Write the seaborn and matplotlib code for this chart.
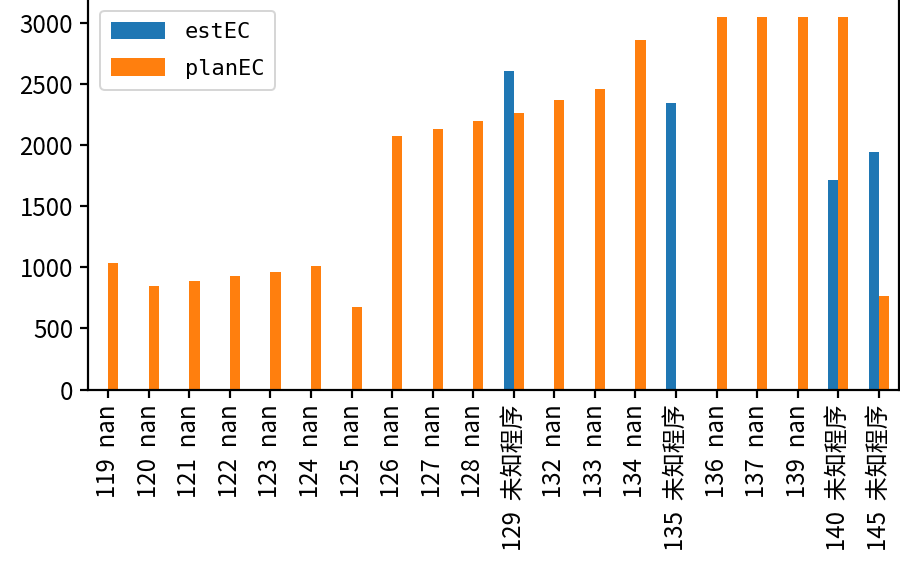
import matplotlib
matplotlib.use("Agg")
import matplotlib.pyplot as plt
import seaborn as sns
import pandas as pd
import numpy as np

categories = ["119  nan", "120  nan", "121  nan", "122  nan", "123  nan", "124  nan",
              "125  nan", "126  nan", "127  nan", "128  nan", "129  未知程序", "132  nan",
              "133  nan", "134  nan", "135  未知程序", "136  nan", "137  nan", "139  nan",
              "140  未知程序", "145  未知程序"]
estEC = [np.nan, np.nan, np.nan, np.nan, np.nan, np.nan, np.nan, np.nan, np.nan, np.nan,
         2605, np.nan, np.nan, np.nan, 2343, np.nan, np.nan, np.nan, 1713, 1943]
planEC = [1035, 847, 888, 928, 961, 1010, 675, 2073, 2130, 2196,
          2262, 2367, 2458, 2858, np.nan, 3046, 3046, 3046, 3046, 763]
series_names = ["estEC", "planEC"]

df = pd.DataFrame({"cat": categories, "estEC": estEC, "planEC": planEC})
long = df.melt(id_vars="cat", value_vars=series_names, var_name="series", value_name="value")

sns.set_style("ticks", {"axes.edgecolor": "black", "text.color": "black",
                        "xtick.color": "black", "ytick.color": "black",
                        "axes.labelcolor": "black"})
plt.rcParams["font.family"] = ["Noto Sans CJK SC", "DejaVu Sans"]
plt.rcParams["axes.unicode_minus"] = False

DPI = 144
fig = plt.figure(figsize=(900 / DPI, 572 / DPI), dpi=DPI)
ax = fig.add_axes([88 / 900, (572 - 389.5) / 572, 811 / 900, 391 / 572])

sns.barplot(data=long, x="cat", y="value", hue="series", hue_order=series_names,
            order=categories, palette=["#1f77b4", "#ff7f0e"], width=0.5,
            saturation=1, linewidth=0, errorbar=None, ax=ax)

ax.set_xlim(-0.5, len(categories) - 0.5)
ax.set_ylim(0, 3046 * 1.05)
ax.set_xlabel("")
ax.set_ylabel("")
ax.tick_params(axis="both", labelsize=12, length=4, width=1.1, colors="black")
ax.tick_params(axis="x", rotation=90)
for s in ax.spines.values():
    s.set_visible(True)
    s.set_linewidth(1.1)
    s.set_color("black")
ax.grid(False)

leg = ax.legend(loc="upper left", title=None,
                prop={"family": ["DejaVu Sans Mono", "Noto Sans CJK SC"], "size": 11},
                handlelength=2.45, handleheight=0.85, labelspacing=0.75,
                borderaxespad=0.55, handletextpad=0.9, borderpad=0.5)
leg.get_frame().set_edgecolor("#cccccc")
for t in leg.get_texts():
    t.set_color("black")

fig.savefig("out.png", dpi=DPI)
